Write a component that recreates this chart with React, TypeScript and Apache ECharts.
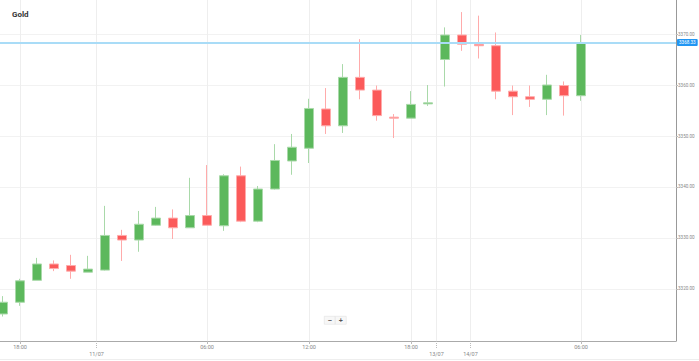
import React, { useEffect, useRef } from "react";
import * as echarts from "echarts";

const times = [
  "10/07 17:00", "10/07 18:00", "10/07 19:00", "10/07 20:00", "10/07 21:00", "10/07 23:00",
  "11/07 00:00", "11/07 01:00", "11/07 02:00", "11/07 03:00", "11/07 04:00", "11/07 05:00",
  "11/07 06:00", "11/07 07:00", "11/07 08:00", "11/07 09:00", "11/07 10:00", "11/07 11:00",
  "11/07 12:00", "11/07 13:00", "11/07 14:00", "11/07 15:00", "11/07 16:00", "11/07 17:00",
  "11/07 18:00", "11/07 19:00", "13/07 22:00", "13/07 23:00", "14/07 00:00", "14/07 01:00",
  "14/07 02:00", "14/07 03:00", "14/07 04:00", "14/07 05:00", "14/07 06:00",
];
const opens = [3315.1, 3317.4, 3321.7, 3324.9, 3324.6, 3323.3, 3323.7, 3330.5, 3329.6, 3332.5, 3333.9, 3332.0, 3334.4, 3332.4, 3342.2, 3333.3, 3339.6, 3345.1, 3347.6, 3355.3, 3352.0, 3361.5, 3359.0, 3353.7, 3353.5, 3356.3, 3365.0, 3369.8, 3368.0, 3367.7, 3358.8, 3357.7, 3357.2, 3359.9, 3357.9];
const closes = [3317.4, 3321.6, 3324.9, 3324.0, 3323.5, 3323.9, 3330.5, 3329.6, 3332.7, 3333.9, 3332.0, 3334.4, 3332.5, 3342.2, 3333.3, 3339.6, 3345.2, 3347.8, 3355.4, 3352.0, 3361.5, 3359.0, 3354.0, 3353.5, 3356.2, 3356.5, 3369.8, 3368.0, 3367.7, 3358.8, 3357.7, 3357.2, 3360.0, 3357.9, 3368.33];
const lows = [3314.6, 3316.7, 3321.7, 3323.5, 3322.0, 3323.3, 3323.6, 3325.5, 3327.3, 3332.4, 3329.8, 3332.0, 3332.5, 3331.4, 3333.1, 3333.1, 3339.5, 3342.4, 3344.7, 3350.4, 3350.6, 3357.2, 3353.0, 3349.6, 3353.5, 3355.9, 3359.7, 3366.7, 3365.2, 3357.2, 3354.1, 3355.7, 3354.1, 3354.0, 3356.9];
const highs = [3318.6, 3322.0, 3326.1, 3325.6, 3326.7, 3326.5, 3336.3, 3331.6, 3335.3, 3336.1, 3335.6, 3341.8, 3344.3, 3342.5, 3344.0, 3340.2, 3348.4, 3350.4, 3357.3, 3359.4, 3364.1, 3369.0, 3359.9, 3354.3, 3358.8, 3360.0, 3371.3, 3374.3, 3373.6, 3370.3, 3359.9, 3359.9, 3362.0, 3360.7, 3369.8];
const priceTicks = [3320, 3330, 3340, 3350, 3360, 3370];
const lastPrice = 3368.33;
const title = "Gold";

export default function App() {
  const ref = useRef<HTMLDivElement>(null);
  useEffect(() => {
    document.body.style.margin = "0";
    const chart = echarts.init(ref.current!, null, { renderer: "svg" });

    const hourTicks: number[] = [];
    const hourLabels: Record<string, string> = {};
    const dateTicks: number[] = [];
    const dateLabels: Record<string, string> = {};
    times.forEach((t, i) => {
      const [d, h] = t.split(" ");
      const hr = parseInt(h, 10);
      if (hr % 6 === 0 && hr !== 0) {
        hourTicks.push(i);
        hourLabels[String(i)] = h;
      }
      if (i > 0 && times[i - 1].split(" ")[0] !== d) {
        dateTicks.push(i - 0.5);
        dateLabels[String(i - 0.5)] = d;
      }
    });

    const data = times.map((t, i) => [i, opens[i], closes[i], lows[i], highs[i]]);
    const xMin = -0.176;
    const xMax = 39.59;

    chart.setOption({
      animation: false,
      title: {
        text: title,
        left: 7,
        top: 5,
        textStyle: { fontSize: 8, fontWeight: "bold", color: "#333", fontFamily: "Roboto" },
      },
      grid: { left: 0, right: 23, top: 0, bottom: 20 },
      xAxis: [
        {
          type: "value",
          min: xMin,
          max: xMax,
          position: "bottom",
          axisLine: { show: true, onZero: false, lineStyle: { color: "#aaa", width: 1 } },
          axisTick: { show: true, length: 3, customValues: hourTicks, lineStyle: { color: "#bbb" } },
          axisLabel: {
            customValues: hourTicks,
            formatter: (v: number) => hourLabels[String(v)] ?? "",
            fontSize: 5.5,
            color: "#888",
            margin: 3,
            fontFamily: "Roboto",
          },
          splitLine: { show: true, lineStyle: { color: "#eeeeee", width: 1 } },
        },
        {
          type: "value",
          min: xMin,
          max: xMax,
          position: "bottom",
          axisLine: { show: false, onZero: false },
          axisTick: { show: true, length: 8, customValues: dateTicks, lineStyle: { color: "#bbb", type: "dotted" } },
          axisLabel: {
            customValues: dateTicks,
            formatter: (v: number) => dateLabels[String(v)] ?? "",
            fontSize: 5.5,
            color: "#888",
            margin: 10,
            fontFamily: "Roboto",
          },
          splitLine: { show: true, lineStyle: { color: "#eeeeee", width: 1 } },
        },
      ],
      yAxis: {
        type: "value",
        position: "right",
        min: 3309.8,
        max: 3376.67,
        axisLine: { show: true, onZero: false, lineStyle: { color: "#999", width: 1 } },
        axisTick: { show: true, length: 2, customValues: priceTicks, lineStyle: { color: "#bbb" } },
        axisLabel: {
          customValues: priceTicks,
          formatter: (v: number) => v.toFixed(2),
          fontSize: 4.6,
          color: "#888",
          margin: 2,
          fontFamily: "Roboto",
        },
        splitLine: { show: true, lineStyle: { color: "#f2f2f2", width: 1 } },
      },
      series: [
        {
          type: "candlestick",
          xAxisIndex: 0,
          data,
          encode: { x: 0, y: [1, 2, 3, 4] },
          barWidth: 10,
          itemStyle: {
            color: "#5cb85c",
            color0: "#fb5a5a",
            borderColor: "#a9d9a9",
            borderColor0: "#ffabab",
            borderWidth: 1,
          },
          markLine: {
            silent: true,
            symbol: "none",
            lineStyle: { color: "#a9dcf7", width: 2, type: "solid" },
            label: {
              show: true,
              position: "end",
              distance: 1,
              formatter: () => lastPrice.toFixed(2),
              backgroundColor: "#2196f3",
              color: "#fff",
              fontSize: 4.6,
              padding: [1, 2],
              borderRadius: 1,
              fontFamily: "Roboto",
            },
            data: [{ yAxis: lastPrice }],
          },
        },
      ],
      graphic: [
        {
          type: "group",
          left: 324,
          top: 316,
          children: [
            { type: "rect", shape: { x: 0, y: 0, width: 11, height: 8 }, style: { fill: "#f7f7f7", stroke: "#ddd", lineWidth: 0.5 } },
            { type: "rect", shape: { x: 11, y: 0, width: 11, height: 8 }, style: { fill: "#f7f7f7", stroke: "#ddd", lineWidth: 0.5 } },
            { type: "text", x: 5.5, y: 4, style: { text: "−", fontSize: 7, fill: "#555", align: "center", verticalAlign: "middle", fontWeight: "bold" } },
            { type: "text", x: 16.5, y: 4, style: { text: "+", fontSize: 7, fill: "#555", align: "center", verticalAlign: "middle", fontWeight: "bold" } },
          ],
        },
        {
          type: "line",
          shape: { x1: 0, y1: 359.5, x2: 699, y2: 359.5 },
          style: { stroke: "#eee", lineWidth: 1 },
        },
      ],
    });
    return () => chart.dispose();
  }, []);
  return <div ref={ref} style={{ width: 699, height: 361 }} />;
}
